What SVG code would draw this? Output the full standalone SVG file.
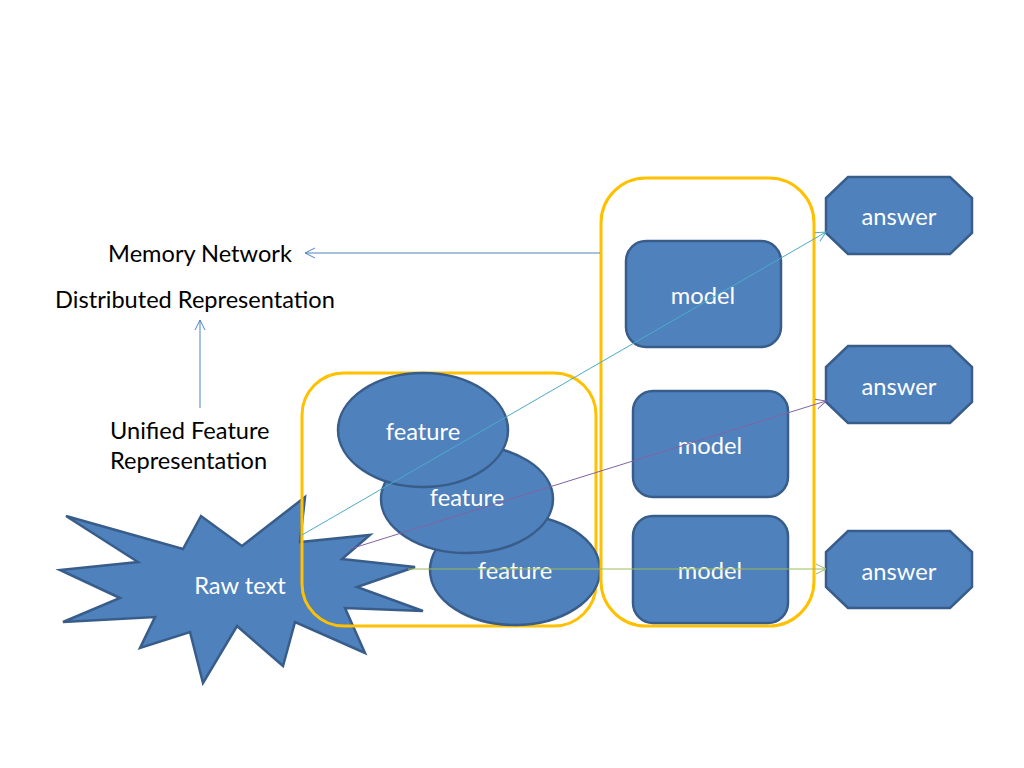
<svg xmlns="http://www.w3.org/2000/svg" width="1024" height="768" viewBox="0 0 1024 768">
<style>
.shape{fill:#4F81BD;stroke:#385D8A;stroke-width:2.5}
.frame{fill:none;stroke:#FFC000;stroke-width:3}
.wt{font-family:Lato,"Open Sans",sans-serif;font-size:23.7px;fill:#FFFFFF;text-anchor:middle;dominant-baseline:central}
.bt{font-family:Lato,"Open Sans",sans-serif;font-size:23.6px;fill:#000000}
.ln{fill:none;stroke-width:1}
</style>
<defs>
<marker id="mb" markerWidth="14" markerHeight="14" refX="11" refY="6" orient="auto" markerUnits="userSpaceOnUse"><path d="M1,1 L11,6 L1,11" fill="none" stroke="#4F81BD" stroke-width="1"/></marker>
<marker id="mc" markerWidth="14" markerHeight="14" refX="11" refY="6" orient="auto" markerUnits="userSpaceOnUse"><path d="M1,1 L11,6 L1,11" fill="none" stroke="#4BACC6" stroke-width="1"/></marker>
<marker id="mp" markerWidth="14" markerHeight="14" refX="11" refY="6" orient="auto" markerUnits="userSpaceOnUse"><path d="M1,1 L11,6 L1,11" fill="none" stroke="#8064A2" stroke-width="1"/></marker>
<marker id="mg" markerWidth="14" markerHeight="14" refX="11" refY="6" orient="auto" markerUnits="userSpaceOnUse"><path d="M1,1 L11,6 L1,11" fill="none" stroke="#9BBB59" stroke-width="1"/></marker>
</defs>
<rect width="1024" height="768" fill="#FFFFFF"/>

<g id="labels">
<text class="bt" x="200" y="253" text-anchor="middle" dominant-baseline="central">Memory Network</text>
<text class="bt" x="195" y="299" text-anchor="middle" dominant-baseline="central">Distributed Representation</text>
<text class="bt" x="110" y="430" dominant-baseline="central">Unified Feature</text>
<text class="bt" x="110" y="460" dominant-baseline="central">Representation</text>
</g>

<g id="rawtext">
<polygon class="shape" points="66,516 183,549 201,516 242,546 305,497 300,542 370,535 342,559 415,567 357,587 423,611 345,608 365,653 295,622 283,666 237,626 203,683 190,632 140,648 155,617 63,622 120,598 60,570 138,562"/>
<text class="wt" x="240" y="585">Raw text</text>
</g>

<g id="featureFrame">
<rect class="frame" x="302" y="373" width="294" height="253" rx="42"/>
</g>

<g id="feature3">
<ellipse class="shape" cx="515" cy="570" rx="85" ry="55"/>
<text class="wt" x="515" y="570">feature</text>
</g>
<g id="feature2">
<ellipse class="shape" cx="467" cy="499" rx="86" ry="54"/>
<text class="wt" x="467" y="497">feature</text>
</g>
<g id="feature1">
<ellipse class="shape" cx="423" cy="430" rx="85" ry="57"/>
<text class="wt" x="423" y="431">feature</text>
</g>

<g id="modelFrame">
<rect class="frame" x="601" y="178" width="213" height="448" rx="45"/>
</g>

<g id="model1">
<rect class="shape" x="626" y="241" width="155" height="106" rx="20"/>
<text class="wt" x="703" y="295">model</text>
</g>
<g id="model2">
<rect class="shape" x="633" y="391" width="155" height="106" rx="20"/>
<text class="wt" x="710" y="445">model</text>
</g>
<g id="model3">
<rect class="shape" x="633" y="516" width="155" height="107" rx="20"/>
<text class="wt" x="710" y="570">model</text>
</g>

<g id="answer1">
<polygon class="shape" points="848,177 950,177 972,198 972,233 950,254 848,254 826,233 826,198"/>
<text class="wt" x="899" y="216">answer</text>
</g>
<g id="answer2">
<polygon class="shape" points="848,346 950,346 972,367 972,402 950,423 848,423 826,402 826,367"/>
<text class="wt" x="899" y="386">answer</text>
</g>
<g id="answer3">
<polygon class="shape" points="848,531 950,531 972,552 972,587 950,608 848,608 826,587 826,552"/>
<text class="wt" x="899" y="571">answer</text>
</g>

<g id="connectors">
<line class="ln" x1="600" y1="253" x2="305" y2="253" stroke="#4F81BD" marker-end="url(#mb)"/>
<line class="ln" x1="200" y1="408" x2="200" y2="320" stroke="#4F81BD" marker-end="url(#mb)"/>
<line class="ln" x1="302" y1="535" x2="826" y2="232" stroke="#4BACC6" marker-end="url(#mc)"/>
<line class="ln" x1="350" y1="549" x2="826" y2="401" stroke="#8064A2" marker-end="url(#mp)"/>
<line class="ln" x1="408" y1="569" x2="826" y2="569" stroke="#9BBB59" marker-end="url(#mg)"/>
</g>
</svg>
